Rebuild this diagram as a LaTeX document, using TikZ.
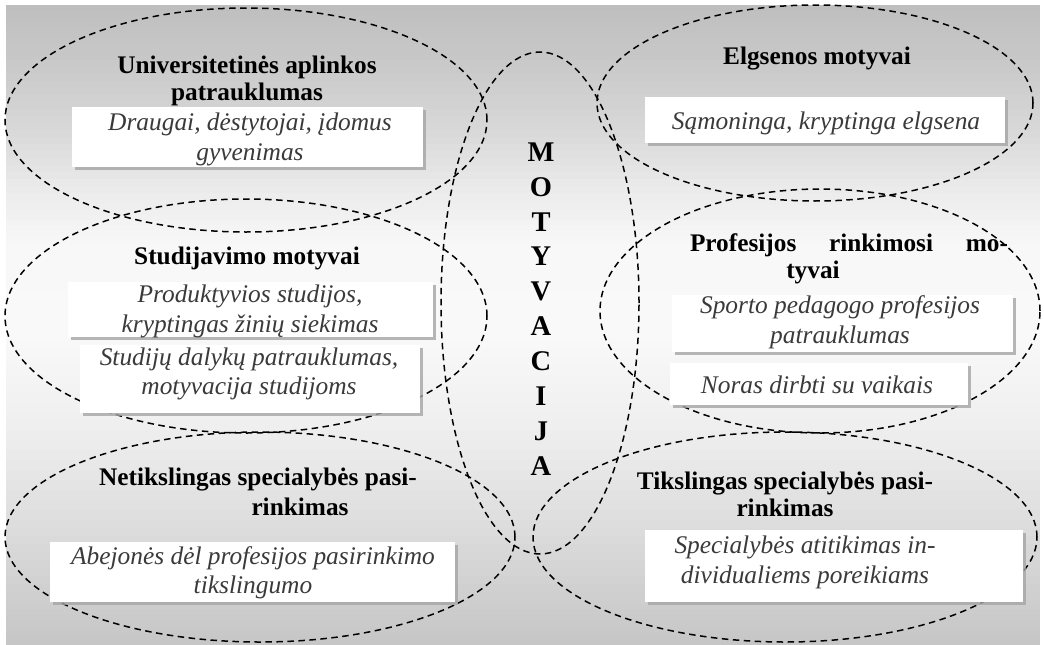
\documentclass[tikz,border=0pt]{standalone}
\usepackage{fontspec}
\setmainfont{Liberation Serif}
\usetikzlibrary{shadows}
\definecolor{itgray}{RGB}{58,58,58}
\definecolor{shadowgray}{RGB}{165,165,165}
\tikzset{
  oval/.style={draw=black, line width=1.5pt, dash pattern=on 6.5pt off 4.5pt},
  ttl/.style={font=\fontsize{25.3}{27}\selectfont\bfseries, align=center, inner sep=0pt, text=black},
  itx/.style={font=\fontsize{25.4}{29.5}\selectfont\itshape, align=center, inner sep=0pt, text=itgray},
  wbox/.style={fill=white, draw=none, inner sep=0pt,
    drop shadow={shadow xshift=2.5pt, shadow yshift=-2.5pt, fill=shadowgray, opacity=0.8}},
  vert/.style={font=\fontsize{28.5}{34.9}\selectfont\bfseries, align=center, inner sep=0pt}
}
\begin{document}
\begin{tikzpicture}[x=1pt,y=-1pt]
\useasboundingbox (0,0) rectangle (1044,645);
\fill[white] (0,0) rectangle (1044,645);
% background gradient drawn as thin strips
\foreach \ya/\ga/\yb/\gb in {5/190/60/200,60/200/130/216,130/216/200/238,200/238/250/248,250/248/330/249,330/249/420/240,420/240/520/222,520/222/600/206,600/206/645/198}{
  \foreach \k in {0,...,9}{
    \pgfmathsetmacro\yy{\ya+(\yb-\ya)*\k/10}
    \pgfmathsetmacro\yz{min(\ya+(\yb-\ya)*(\k+1)/10+0.6,645)}
    \pgfmathsetmacro\gg{(\ga+(\gb-\ga)*(\k+0.5)/10)/255}
    \definecolor{stripc}{gray}{\gg}
    \fill[stripc] (6,\yy) rectangle (1040,\yz);
  }
}

% ovals
\draw[oval] (246,120) ellipse [x radius=241pt, y radius=112pt];
\draw[oval] (246,316) ellipse [x radius=241pt, y radius=117pt];
\draw[oval] (260,537) ellipse [x radius=255pt, y radius=105pt];
\draw[oval] (815,103) ellipse [x radius=218pt, y radius=98pt];
\draw[oval] (820,311) ellipse [x radius=220pt, y radius=122pt];
\draw[oval] (785,537) ellipse [x radius=252pt, y radius=105pt];
\draw[oval] (540,303) ellipse [x radius=99pt, y radius=251pt];

% white boxes
\node[wbox, minimum width=351pt, minimum height=60pt] (b1) at (247.5,137) {};
\node[wbox, minimum width=360pt, minimum height=46pt] (b2) at (825,120) {};
\node[wbox, minimum width=365pt, minimum height=55pt] (b3) at (250.5,309.5) {};
\node[wbox, minimum width=340pt, minimum height=68pt] (b4) at (250,379) {};
\node[wbox, minimum width=341pt, minimum height=57pt] (b5) at (842.5,323.5) {};
\node[wbox, minimum width=298pt, minimum height=42pt] (b6) at (819,384) {};
\node[wbox, minimum width=405pt, minimum height=60pt] (b7) at (252.5,572) {};
\node[wbox, minimum width=378pt, minimum height=72pt] (b8) at (834,566) {};

% titles
\node[ttl] (t1) at (247,81) {Universitetinės aplinkos\\patrauklumas};
\node[ttl] (t2) at (817,59) {Elgsenos motyvai};
\node[ttl] (t3) at (247,258) {Studijavimo motyvai};
\node[ttl] (t4a) at (849,245) {\makebox[318pt][s]{Profesijos rinkimosi mo-}};
\node[ttl] (t4b) at (813,272) {tyvai};
\node[ttl] (t5a) at (258,480) {Netikslingas specialybės pasi-};
\node[ttl] (t5b) at (300,507) {rinkimas};
\node[ttl] (t6) at (785,494) {Tikslingas specialybės pasi-\\rinkimas};

% box texts
\node[itx] (i1) at (250,139.5) {Draugai, dėstytojai, įdomus\\gyvenimas};
\node[itx] (i2) at (826,123) {Sąmoninga, kryptinga elgsena};
\node[itx] (i3) at (250,311.5) {Produktyvios studijos,\\kryptingas žinių siekimas};
\node[itx] (i4) at (249,374) {Studijų dalykų patrauklumas,\\motyvacija studijoms};
\node[itx] (i5) at (840,322.5) {Sporto pedagogo profesijos\\patrauklumas};
\node[itx] (i6) at (817,385) {Noras dirbti su vaikais};
\node[itx] (i7) at (253,573) {Abejonės dėl profesijos pasirinkimo\\tikslingumo};
\node[itx] (i8) at (805,562.5) {Specialybės atitikimas in-\\dividualiems poreikiams};

% vertical word
\node[vert] (mot) at (541,309) {M\\O\\T\\Y\\V\\A\\C\\I\\J\\A};
\end{tikzpicture}
\end{document}
